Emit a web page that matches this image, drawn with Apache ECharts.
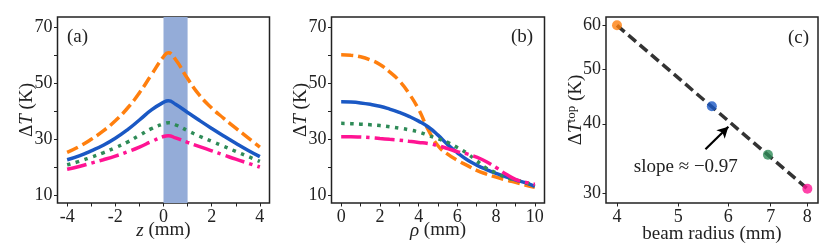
<!DOCTYPE html>
<html><head><meta charset="utf-8">
<script src="https://cdn.jsdelivr.net/npm/echarts@6/dist/echarts.min.js"></script>
<style>html,body{margin:0;padding:0;background:#fff}#c{width:830px;height:248px}</style>
</head><body><div id="c"></div>
<script>
// ---- data ----
const zA = [-4,-3.5,-3,-2.5,-2,-1.5,-1,-0.5,0,0.2,0.5,1,1.5,2,2.5,3,3.5,4];
const orangeA = [25.4,27.5,30.1,33.1,36.7,41.2,46.7,53.2,59.6,61.0,58.6,51.8,45.8,41.3,37.6,34.1,30.7,27.3];
const blueA   = [22.8,24.2,26.0,28.0,30.5,33.5,37.0,40.6,43.3,43.9,42.6,39.7,36.8,34.0,31.3,28.7,26.2,23.9];
const greenA  = [21.0,22.2,23.7,25.3,27.1,29.1,31.5,33.9,35.6,36.0,35.3,33.2,31.2,29.4,27.6,25.8,24.0,22.2];
const pinkA   = [19.4,20.4,21.6,22.8,24.1,25.6,27.3,29.3,31.1,31.4,30.6,29.0,27.5,26.0,24.5,23.0,21.6,20.2];
const bandA = [0, 1];

const rhoB = [0,0.5,1,1.5,2,2.5,3,3.5,4,4.5,5,5.5,6,6.5,7,7.5,8,8.5,9,9.5,10];
const orangeB = [60.3,60.1,59.6,58.5,56.8,54.2,51.0,46.5,40.8,33.5,27.8,24.8,22.6,20.8,19.0,17.7,16.6,15.6,14.7,13.8,13.0];
const blueB   = [43.5,43.4,43.1,42.6,41.9,40.9,39.7,38.3,36.6,34.5,31.6,28.2,25.3,22.8,20.9,19.3,17.9,16.7,15.6,14.6,13.3];
const greenB  = [35.8,35.7,35.5,35.3,35.0,34.6,34.1,33.5,32.7,31.5,30.3,29.0,27.2,25.1,22.4,19.8,18.1,16.5,15.6,14.7,13.6];
const pinkB   = [31.0,31.0,30.9,30.7,30.4,30.1,29.8,29.4,29.0,28.6,27.8,26.8,25.7,24.9,23.7,22.1,20.0,17.7,15.8,14.8,14.0];

const radiusC = [4, 5.65, 6.93, 8];
const peakC = [60, 43.0, 35.2, 30.6];
const fitX = [4, 8];
const fitY = [60, 30.6];
const slopeText = 'slope ≈ −0.97';
const arrowFrom = [5.52, 36.0];
const arrowTo = [6.0, 39.5];
const slopeLabelAt = [5.14, 33.5];

const ticksZ = [-4,-3,-2,-1,0,1,2,3,4];
const labelsZ = [-4,-2,0,2,4];
const ticksRho = [0,1,2,3,4,5,6,7,8,9,10];
const labelsRho = [0,2,4,6,8,10];
const ticksT = [10,20,30,40,50,60,70];
const labelsT = [10,30,50,70];
const ticksR = [4,5,6,7,8];
const ticksTop = [30,40,50,60];

// ---- style ----
const FONT = 'Liberation Serif';
const TXT = '#222';
const C_OR = '#ff7f0e', C_BL = '#1a58c4', C_GR = '#2e8b57', C_PK = '#ff1493';
const LW = 3.5;
const DASH = [12, 5], DOT = [3.5, 5.5], DASHDOT = [20, 5, 3.5, 5];
const pair = (xs, ys) => xs.map((x, i) => [x, ys[i]]);

const G = [
  {left: 57.5, top: 17, width: 212, height: 186},
  {left: 331.5, top: 17, width: 213, height: 186},
  {left: 606, top: 17, width: 212, height: 186}
];
const grid = G.map(g => Object.assign({show: true, borderColor: '#222', borderWidth: 1.5, backgroundColor: 'transparent', outerBoundsMode: 'none'}, g));

const rich = {
  n: {fontFamily: FONT, fontSize: 19, color: TXT},
  i: {fontFamily: FONT, fontSize: 19, fontStyle: 'italic', color: TXT},
  s: {fontFamily: FONT, fontSize: 13, color: TXT, verticalAlign: 'top', padding: [0, 0, 9, 0]}
};

function axis(gi, opts) {
  const tick = Object.assign({show: true, inside: false, length: 3.5, lineStyle: {color: '#222', width: 1}}, opts.axisTick || {});
  const label = Object.assign({fontFamily: FONT, fontSize: 18, color: TXT, margin: 5, hideOverlap: false}, opts.axisLabel || {});
  return Object.assign({
    gridIndex: gi,
    nameLocation: 'middle',
    nameMoveOverlap: false,
    nameTextStyle: {fontFamily: FONT, fontSize: 19, color: TXT, rich: rich},
    axisLine: {show: false, onZero: false},
    splitLine: {show: false},
  }, opts, {axisTick: tick, axisLabel: label});
}

const xAxis = [
  axis(0, {type: 'value', min: -4.4, max: 4.4, name: '{i|z} {n|(mm)}', nameGap: 18,
    axisTick: {customValues: ticksZ}, axisLabel: {customValues: labelsZ, margin: 5}}),
  axis(1, {type: 'value', min: -0.5, max: 10.5, name: '{i|ρ} {n|(mm)}', nameGap: 18,
    axisTick: {customValues: ticksRho}, axisLabel: {customValues: labelsRho, margin: 5}}),
  axis(2, {type: 'log', logBase: 10, min: 3.843, max: 8.316, name: '{n|beam radius (mm)}', nameGap: 22,
    axisTick: {customValues: ticksR}, axisLabel: {customValues: ticksR, margin: 5, formatter: v => String(Math.round(v))}})
];
const yAxis = [
  axis(0, {type: 'value', min: 7.35, max: 73.8, name: '{n|Δ}{i|T} {n|(K)}', nameGap: 21,
    axisTick: {customValues: ticksT}, axisLabel: {customValues: labelsT}}),
  axis(1, {type: 'value', min: 7.35, max: 73.8, name: '{n|Δ}{i|T} {n|(K)}', nameGap: 21,
    axisTick: {customValues: ticksT}, axisLabel: {customValues: labelsT}}),
  axis(2, {type: 'log', logBase: 10, min: 28.86, max: 62.09, name: '{n|Δ}{i|T}{s|top} {n|(K)}', nameGap: 19,
    axisTick: {customValues: ticksTop}, axisLabel: {customValues: ticksTop, formatter: v => String(Math.round(v))}})
];

function line(gi, data, color, dash, extra) {
  return Object.assign({
    type: 'line', xAxisIndex: gi, yAxisIndex: gi, data: data, showSymbol: false, symbol: 'none',
    smooth: 0.5, animation: false, silent: true, z: 3,
    lineStyle: {color: color, width: LW, type: dash, cap: 'butt'}
  }, extra || {});
}

const series = [
  line(0, pair(zA, pinkA), C_PK, DASHDOT, {
    markArea: {silent: true, itemStyle: {color: '#94acd8', opacity: 1}, data: [[{xAxis: bandA[0]}, {xAxis: bandA[1]}]], z: 1}
  }),
  line(0, pair(zA, greenA), C_GR, DOT),
  line(0, pair(zA, blueA), C_BL, 'solid'),
  line(0, pair(zA, orangeA), C_OR, DASH),

  line(1, pair(rhoB, orangeB), C_OR, DASH),
  line(1, pair(rhoB, blueB), C_BL, 'solid'),
  line(1, pair(rhoB, greenB), C_GR, DOT),
  line(1, pair(rhoB, pinkB), C_PK, DASHDOT),

  {
    type: 'line', xAxisIndex: 2, yAxisIndex: 2, data: pair(fitX, fitY), showSymbol: false, symbol: 'none',
    animation: false, silent: true, z: 2,
    lineStyle: {color: '#333', width: 3.5, type: [10, 5]},
    markLine: {
      silent: true, animation: false, symbol: ['none', 'arrow'], symbolSize: [9, 11],
      lineStyle: {color: '#000', width: 2.2, type: 'solid'}, label: {show: false},
      data: [[{coord: arrowFrom}, {coord: arrowTo}]]
    },
    markPoint: {
      silent: true, animation: false, symbol: 'circle', symbolSize: 1, itemStyle: {color: 'transparent'},
      label: {show: true, position: 'inside', formatter: slopeText, fontFamily: FONT, fontSize: 19, color: TXT},
      data: [{coord: slopeLabelAt}]
    }
  },
  {
    type: 'scatter', xAxisIndex: 2, yAxisIndex: 2, symbolSize: 10, animation: false, silent: true, z: 4,
    data: radiusC.map((r, i) => ({value: [r, peakC[i]], itemStyle: {color: [C_OR, C_BL, C_GR, C_PK][i]}}))
  }
];

const graphic = [
  {type: 'text', left: 67, top: 28, style: {text: '(a)', font: '19px "Liberation Serif"', fill: TXT}},
  {type: 'text', left: 511, top: 28, style: {text: '(b)', font: '19px "Liberation Serif"', fill: TXT}},
  {type: 'text', left: 788, top: 29, style: {text: '(c)', font: '19px "Liberation Serif"', fill: TXT}}
];

const chart = echarts.init(document.getElementById('c'), null, {renderer: 'canvas'});
chart.setOption({animation: false, grid, xAxis, yAxis, series, graphic});
</script></body></html>
